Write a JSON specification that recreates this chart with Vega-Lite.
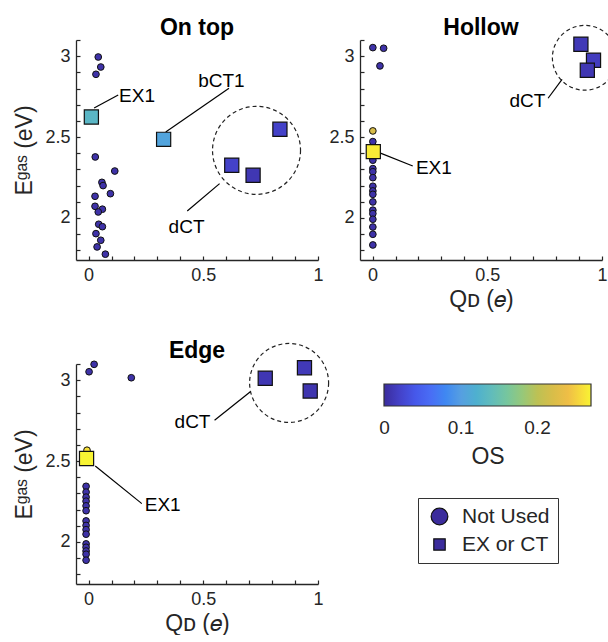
{
  "$schema": "https://vega.github.io/schema/vega-lite/v6.json",
  "padding": {"left": 13, "top": 16, "right": 0, "bottom": 0},
  "background": "white",
  "datasets": {
    "pts": [
      {"p": "On top", "x": 0.042, "y": 2.995, "t": "Not Used", "os": 0.005},
      {"p": "On top", "x": 0.053, "y": 2.933, "t": "Not Used", "os": 0.005},
      {"p": "On top", "x": 0.032, "y": 2.888, "t": "Not Used", "os": 0.005},
      {"p": "On top", "x": 0.029, "y": 2.377, "t": "Not Used", "os": 0.005},
      {"p": "On top", "x": 0.114, "y": 2.29, "t": "Not Used", "os": 0.005},
      {"p": "On top", "x": 0.058, "y": 2.22, "t": "Not Used", "os": 0.005},
      {"p": "On top", "x": 0.063, "y": 2.2, "t": "Not Used", "os": 0.005},
      {"p": "On top", "x": 0.095, "y": 2.15, "t": "Not Used", "os": 0.005},
      {"p": "On top", "x": 0.028, "y": 2.134, "t": "Not Used", "os": 0.005},
      {"p": "On top", "x": 0.028, "y": 2.072, "t": "Not Used", "os": 0.005},
      {"p": "On top", "x": 0.06, "y": 2.054, "t": "Not Used", "os": 0.005},
      {"p": "On top", "x": 0.042, "y": 2.037, "t": "Not Used", "os": 0.005},
      {"p": "On top", "x": 0.044, "y": 1.961, "t": "Not Used", "os": 0.005},
      {"p": "On top", "x": 0.06, "y": 1.946, "t": "Not Used", "os": 0.005},
      {"p": "On top", "x": 0.032, "y": 1.903, "t": "Not Used", "os": 0.005},
      {"p": "On top", "x": 0.053, "y": 1.862, "t": "Not Used", "os": 0.005},
      {"p": "On top", "x": 0.037, "y": 1.821, "t": "Not Used", "os": 0.005},
      {"p": "On top", "x": 0.073, "y": 1.776, "t": "Not Used", "os": 0.005},
      {"p": "On top", "x": 0.012, "y": 2.624, "t": "EX or CT", "os": 0.13},
      {"p": "On top", "x": 0.327, "y": 2.486, "t": "EX or CT", "os": 0.105},
      {"p": "On top", "x": 0.624, "y": 2.326, "t": "EX or CT", "os": 0.02},
      {"p": "On top", "x": 0.717, "y": 2.264, "t": "EX or CT", "os": 0.01},
      {"p": "On top", "x": 0.834, "y": 2.548, "t": "EX or CT", "os": 0.02},
      {"p": "Hollow", "x": 0.001, "y": 3.053, "t": "Not Used", "os": 0.005},
      {"p": "Hollow", "x": 0.048, "y": 3.049, "t": "Not Used", "os": 0.005},
      {"p": "Hollow", "x": 0.032, "y": 2.94, "t": "Not Used", "os": 0.005},
      {"p": "Hollow", "x": 0.001, "y": 2.538, "t": "Not Used", "os": 0.22},
      {"p": "Hollow", "x": 0.001, "y": 2.472, "t": "Not Used", "os": 0.005},
      {"p": "Hollow", "x": 0.001, "y": 2.373, "t": "Not Used", "os": 0.005},
      {"p": "Hollow", "x": 0.001, "y": 2.357, "t": "Not Used", "os": 0.005},
      {"p": "Hollow", "x": 0.001, "y": 2.305, "t": "Not Used", "os": 0.005},
      {"p": "Hollow", "x": 0.001, "y": 2.286, "t": "Not Used", "os": 0.005},
      {"p": "Hollow", "x": 0.001, "y": 2.249, "t": "Not Used", "os": 0.005},
      {"p": "Hollow", "x": 0.001, "y": 2.196, "t": "Not Used", "os": 0.005},
      {"p": "Hollow", "x": 0.001, "y": 2.167, "t": "Not Used", "os": 0.005},
      {"p": "Hollow", "x": 0.001, "y": 2.146, "t": "Not Used", "os": 0.005},
      {"p": "Hollow", "x": 0.001, "y": 2.099, "t": "Not Used", "os": 0.005},
      {"p": "Hollow", "x": 0.001, "y": 2.048, "t": "Not Used", "os": 0.005},
      {"p": "Hollow", "x": 0.001, "y": 2.027, "t": "Not Used", "os": 0.005},
      {"p": "Hollow", "x": 0.001, "y": 1.992, "t": "Not Used", "os": 0.005},
      {"p": "Hollow", "x": 0.001, "y": 1.944, "t": "Not Used", "os": 0.005},
      {"p": "Hollow", "x": 0.001, "y": 1.899, "t": "Not Used", "os": 0.005},
      {"p": "Hollow", "x": 0.001, "y": 1.833, "t": "Not Used", "os": 0.005},
      {"p": "Hollow", "x": 0.003, "y": 2.41, "t": "EX or CT", "os": 0.265},
      {"p": "Hollow", "x": 0.908, "y": 3.074, "t": "EX or CT", "os": 0.012},
      {"p": "Hollow", "x": 0.963, "y": 2.975, "t": "EX or CT", "os": 0.015},
      {"p": "Hollow", "x": 0.936, "y": 2.913, "t": "EX or CT", "os": 0.01},
      {"p": "Edge", "x": 0.024, "y": 3.098, "t": "Not Used", "os": 0.005},
      {"p": "Edge", "x": 0.002, "y": 3.052, "t": "Not Used", "os": 0.005},
      {"p": "Edge", "x": 0.186, "y": 3.015, "t": "Not Used", "os": 0.005},
      {"p": "Edge", "x": -0.007, "y": 2.567, "t": "Not Used", "os": 0.26},
      {"p": "Edge", "x": -0.011, "y": 2.344, "t": "Not Used", "os": 0.005},
      {"p": "Edge", "x": -0.011, "y": 2.308, "t": "Not Used", "os": 0.005},
      {"p": "Edge", "x": -0.011, "y": 2.277, "t": "Not Used", "os": 0.005},
      {"p": "Edge", "x": -0.011, "y": 2.252, "t": "Not Used", "os": 0.005},
      {"p": "Edge", "x": -0.011, "y": 2.223, "t": "Not Used", "os": 0.005},
      {"p": "Edge", "x": -0.011, "y": 2.193, "t": "Not Used", "os": 0.005},
      {"p": "Edge", "x": -0.011, "y": 2.13, "t": "Not Used", "os": 0.005},
      {"p": "Edge", "x": -0.011, "y": 2.102, "t": "Not Used", "os": 0.005},
      {"p": "Edge", "x": -0.011, "y": 2.076, "t": "Not Used", "os": 0.005},
      {"p": "Edge", "x": -0.011, "y": 2.048, "t": "Not Used", "os": 0.005},
      {"p": "Edge", "x": -0.011, "y": 1.988, "t": "Not Used", "os": 0.005},
      {"p": "Edge", "x": -0.011, "y": 1.967, "t": "Not Used", "os": 0.005},
      {"p": "Edge", "x": -0.011, "y": 1.944, "t": "Not Used", "os": 0.005},
      {"p": "Edge", "x": -0.011, "y": 1.924, "t": "Not Used", "os": 0.005},
      {"p": "Edge", "x": -0.011, "y": 1.887, "t": "Not Used", "os": 0.005},
      {"p": "Edge", "x": -0.009, "y": 2.516, "t": "EX or CT", "os": 0.27},
      {"p": "Edge", "x": 0.77, "y": 3.012, "t": "EX or CT", "os": 0.01},
      {"p": "Edge", "x": 0.941, "y": 3.077, "t": "EX or CT", "os": 0.012},
      {"p": "Edge", "x": 0.966, "y": 2.933, "t": "EX or CT", "os": 0.008}
    ],
    "lines": [
      {"p": "On top", "x": 0.024, "y": 2.68, "x2": 0.129, "y2": 2.76},
      {"p": "On top", "x": 0.336, "y": 2.532, "x2": 0.612, "y2": 2.802},
      {"p": "On top", "x": 0.43, "y": 2.043, "x2": 0.571, "y2": 2.212},
      {"p": "Hollow", "x": 0.765, "y": 2.74, "x2": 0.826, "y2": 2.857},
      {"p": "Hollow", "x": 0.029, "y": 2.404, "x2": 0.175, "y2": 2.321},
      {"p": "Edge", "x": 0.549, "y": 2.752, "x2": 0.705, "y2": 2.929},
      {"p": "Edge", "x": 0.029, "y": 2.47, "x2": 0.232, "y2": 2.237}
    ],
    "labels": [
      {"p": "On top", "label": "EX1", "x": 0.211, "y": 2.752},
      {"p": "On top", "label": "bCT1", "x": 0.579, "y": 2.847},
      {"p": "On top", "label": "dCT", "x": 0.427, "y": 1.944},
      {"p": "Hollow", "label": "dCT", "x": 0.675, "y": 2.723},
      {"p": "Hollow", "label": "EX1", "x": 0.267, "y": 2.311},
      {"p": "Edge", "label": "dCT", "x": 0.453, "y": 2.742},
      {"p": "Edge", "label": "EX1", "x": 0.323, "y": 2.231}
    ],
    "ell": [
      {"p": "On top", "x": 0.732, "y": 2.418},
      {"p": "Hollow", "x": 0.925, "y": 2.99},
      {"p": "Edge", "x": 0.874, "y": 2.983}
    ]
  },
  "columns": 2,
  "spacing": {"row": 104, "column": 42},
  "bounds": "flush",
  "concat": [
    {
      "title": {"text": "On top", "frame": "group", "baseline": "alphabetic", "offset": 6, "dy": 33},
      "width": 242,
      "height": 220,
      "encoding": {
        "x": {"field": "x", "type": "quantitative", "scale": {"domain": [-0.055, 1], "nice": false, "zero": false},
          "axis": {"title": null, "values": [0, 0.1, 0.2, 0.3, 0.4, 0.5, 0.6, 0.7, 0.8, 0.9, 1], "labelExpr": "round(datum.value*10) % 5 == 0 ? format(datum.value, '~g') : ''"}},
        "y": {"field": "y", "type": "quantitative", "scale": {"domain": [1.74, 3.1], "nice": false, "zero": false},
          "axis": {"title": "Eᵍᵃˢ (eV)", "titlePadding": 8, "values": [1.8, 1.9, 2, 2.1, 2.2, 2.3, 2.4, 2.5, 2.6, 2.7, 2.8, 2.9, 3, 3.1], "labelExpr": "round(datum.value*10) % 5 == 0 ? format(datum.value, '~g') : ''"}}
      },
      "layer": [
        {
          "data": {"name": "ell"},
          "transform": [{"filter": "datum.p === 'On top'"}],
          "mark": {"type": "point", "shape": "circle", "size": 7744, "filled": false, "stroke": "#222222", "strokeWidth": 1.2, "strokeDash": [4, 3], "opacity": 1}
        },
        {
          "data": {"name": "lines"},
          "transform": [{"filter": "datum.p === 'On top'"}],
          "mark": {"type": "rule", "color": "#000000", "strokeWidth": 1.2},
          "encoding": {"x2": {"field": "x2"}, "y2": {"field": "y2"}}
        },
        {
          "data": {"name": "labels"},
          "transform": [{"filter": "datum.p === 'On top'"}],
          "mark": {"type": "text", "font": "Liberation Sans", "fontSize": 19, "color": "#000000", "align": "center", "baseline": "middle"},
          "encoding": {"text": {"field": "label"}}
        },
        {
          "data": {"name": "pts"},
          "transform": [{"filter": "datum.p === 'On top' && datum.t === 'Not Used'"}],
          "mark": {"type": "point", "filled": true, "stroke": "#111111", "strokeWidth": 1, "opacity": 1, "size": 45},
          "encoding": {
            "color": {"field": "os", "type": "quantitative",
              "scale": {"domain": [-0.0008, 0.27], "range": ["#3b2c9c", "#4650e6", "#4b74f8", "#58a0e0", "#62b8c0", "#88c890", "#c2c050", "#ecb848", "#f8f433"]},
              "legend": {"title": "OS", "orient": "none", "direction": "horizontal", "legendX": 308, "legendY": 344, "gradientLength": 207, "gradientThickness": 22, "titleOrient": "bottom", "titleAnchor": "middle", "values": [0, 0.1, 0.2], "format": "~g", "labelAlign": "center", "padding": 0, "gradientStrokeColor": "#333333", "gradientStrokeWidth": 1.2, "labelFontSize": 19, "titleFontSize": 23, "titleFontWeight": "normal", "labelOffset": 13, "titlePadding": 8}},
            "shape": {"field": "t", "type": "nominal",
              "scale": {"domain": ["Not Used", "EX or CT"], "range": ["circle", "square"]},
              "legend": {"title": null, "orient": "none", "legendX": 342, "legendY": 458, "strokeColor": "#333333", "padding": 8, "labelFontSize": 21, "symbolSize": 200, "symbolOffset": 3, "labelOffset": 12, "symbolFillColor": "#3b2c9c", "symbolStrokeColor": "#111111", "symbolStrokeWidth": 1.2, "symbolOpacity": 1, "rowPadding": 5, "labelExpr": "datum.label + '\u00a0\u00a0\u00a0\u00a0\u00a0\u00a0\u00a0'", "encode": {"symbols": {"update": {"size": {"signal": "datum.value === 'Not Used' ? 280 : 130"}}}}}}
          }
        },
        {
          "data": {"name": "pts"},
          "transform": [{"filter": "datum.p === 'On top' && datum.t === 'EX or CT'"}],
          "mark": {"type": "point", "filled": true, "stroke": "#111111", "strokeWidth": 1.2, "opacity": 1, "size": 200},
          "encoding": {
            "color": {"field": "os", "type": "quantitative",
              "scale": {"domain": [-0.0008, 0.27], "range": ["#3b2c9c", "#4650e6", "#4b74f8", "#58a0e0", "#62b8c0", "#88c890", "#c2c050", "#ecb848", "#f8f433"]},
              "legend": {"title": "OS", "orient": "none", "direction": "horizontal", "legendX": 308, "legendY": 344, "gradientLength": 207, "gradientThickness": 22, "titleOrient": "bottom", "titleAnchor": "middle", "values": [0, 0.1, 0.2], "format": "~g", "labelAlign": "center", "padding": 0, "gradientStrokeColor": "#333333", "gradientStrokeWidth": 1.2, "labelFontSize": 19, "titleFontSize": 23, "titleFontWeight": "normal", "labelOffset": 13, "titlePadding": 8}},
            "shape": {"field": "t", "type": "nominal",
              "scale": {"domain": ["Not Used", "EX or CT"], "range": ["circle", "square"]},
              "legend": {"title": null, "orient": "none", "legendX": 342, "legendY": 458, "strokeColor": "#333333", "padding": 8, "labelFontSize": 21, "symbolSize": 200, "symbolOffset": 3, "labelOffset": 12, "symbolFillColor": "#3b2c9c", "symbolStrokeColor": "#111111", "symbolStrokeWidth": 1.2, "symbolOpacity": 1, "rowPadding": 5, "labelExpr": "datum.label + '\u00a0\u00a0\u00a0\u00a0\u00a0\u00a0\u00a0'", "encode": {"symbols": {"update": {"size": {"signal": "datum.value === 'Not Used' ? 280 : 130"}}}}}}
          }
        }
      ]
    },
    {
      "title": {"text": "Hollow", "frame": "group", "baseline": "alphabetic", "offset": 6, "dy": 41},
      "width": 242,
      "height": 220,
      "encoding": {
        "x": {"field": "x", "type": "quantitative", "scale": {"domain": [-0.055, 1], "nice": false, "zero": false},
          "axis": {"title": "Qᴅ (𝑒)", "titlePadding": 4, "values": [0, 0.1, 0.2, 0.3, 0.4, 0.5, 0.6, 0.7, 0.8, 0.9, 1], "labelExpr": "round(datum.value*10) % 5 == 0 ? format(datum.value, '~g') : ''"}},
        "y": {"field": "y", "type": "quantitative", "scale": {"domain": [1.74, 3.1], "nice": false, "zero": false},
          "axis": {"title": null, "values": [1.8, 1.9, 2, 2.1, 2.2, 2.3, 2.4, 2.5, 2.6, 2.7, 2.8, 2.9, 3, 3.1], "labelExpr": "round(datum.value*10) % 5 == 0 ? format(datum.value, '~g') : ''"}}
      },
      "layer": [
        {
          "data": {"name": "ell"},
          "transform": [{"filter": "datum.p === 'Hollow'"}],
          "mark": {"type": "point", "shape": "circle", "size": 4200, "filled": false, "stroke": "#222222", "strokeWidth": 1.2, "strokeDash": [4, 3], "opacity": 1}
        },
        {
          "data": {"name": "lines"},
          "transform": [{"filter": "datum.p === 'Hollow'"}],
          "mark": {"type": "rule", "color": "#000000", "strokeWidth": 1.2},
          "encoding": {"x2": {"field": "x2"}, "y2": {"field": "y2"}}
        },
        {
          "data": {"name": "labels"},
          "transform": [{"filter": "datum.p === 'Hollow'"}],
          "mark": {"type": "text", "font": "Liberation Sans", "fontSize": 19, "color": "#000000", "align": "center", "baseline": "middle"},
          "encoding": {"text": {"field": "label"}}
        },
        {
          "data": {"name": "pts"},
          "transform": [{"filter": "datum.p === 'Hollow' && datum.t === 'Not Used'"}],
          "mark": {"type": "point", "filled": true, "stroke": "#111111", "strokeWidth": 1, "opacity": 1, "size": 45},
          "encoding": {
            "color": {"field": "os", "type": "quantitative",
              "scale": {"domain": [-0.0008, 0.27], "range": ["#3b2c9c", "#4650e6", "#4b74f8", "#58a0e0", "#62b8c0", "#88c890", "#c2c050", "#ecb848", "#f8f433"]},
              "legend": {"title": "OS", "orient": "none", "direction": "horizontal", "legendX": 308, "legendY": 344, "gradientLength": 207, "gradientThickness": 22, "titleOrient": "bottom", "titleAnchor": "middle", "values": [0, 0.1, 0.2], "format": "~g", "labelAlign": "center", "padding": 0, "gradientStrokeColor": "#333333", "gradientStrokeWidth": 1.2, "labelFontSize": 19, "titleFontSize": 23, "titleFontWeight": "normal", "labelOffset": 13, "titlePadding": 8}},
            "shape": {"field": "t", "type": "nominal",
              "scale": {"domain": ["Not Used", "EX or CT"], "range": ["circle", "square"]},
              "legend": {"title": null, "orient": "none", "legendX": 342, "legendY": 458, "strokeColor": "#333333", "padding": 8, "labelFontSize": 21, "symbolSize": 200, "symbolOffset": 3, "labelOffset": 12, "symbolFillColor": "#3b2c9c", "symbolStrokeColor": "#111111", "symbolStrokeWidth": 1.2, "symbolOpacity": 1, "rowPadding": 5, "labelExpr": "datum.label + '\u00a0\u00a0\u00a0\u00a0\u00a0\u00a0\u00a0'", "encode": {"symbols": {"update": {"size": {"signal": "datum.value === 'Not Used' ? 280 : 130"}}}}}}
          }
        },
        {
          "data": {"name": "pts"},
          "transform": [{"filter": "datum.p === 'Hollow' && datum.t === 'EX or CT'"}],
          "mark": {"type": "point", "filled": true, "stroke": "#111111", "strokeWidth": 1.2, "opacity": 1, "size": 200},
          "encoding": {
            "color": {"field": "os", "type": "quantitative",
              "scale": {"domain": [-0.0008, 0.27], "range": ["#3b2c9c", "#4650e6", "#4b74f8", "#58a0e0", "#62b8c0", "#88c890", "#c2c050", "#ecb848", "#f8f433"]},
              "legend": {"title": "OS", "orient": "none", "direction": "horizontal", "legendX": 308, "legendY": 344, "gradientLength": 207, "gradientThickness": 22, "titleOrient": "bottom", "titleAnchor": "middle", "values": [0, 0.1, 0.2], "format": "~g", "labelAlign": "center", "padding": 0, "gradientStrokeColor": "#333333", "gradientStrokeWidth": 1.2, "labelFontSize": 19, "titleFontSize": 23, "titleFontWeight": "normal", "labelOffset": 13, "titlePadding": 8}},
            "shape": {"field": "t", "type": "nominal",
              "scale": {"domain": ["Not Used", "EX or CT"], "range": ["circle", "square"]},
              "legend": {"title": null, "orient": "none", "legendX": 342, "legendY": 458, "strokeColor": "#333333", "padding": 8, "labelFontSize": 21, "symbolSize": 200, "symbolOffset": 3, "labelOffset": 12, "symbolFillColor": "#3b2c9c", "symbolStrokeColor": "#111111", "symbolStrokeWidth": 1.2, "symbolOpacity": 1, "rowPadding": 5, "labelExpr": "datum.label + '\u00a0\u00a0\u00a0\u00a0\u00a0\u00a0\u00a0'", "encode": {"symbols": {"update": {"size": {"signal": "datum.value === 'Not Used' ? 280 : 130"}}}}}}
          }
        }
      ]
    },
    {
      "title": {"text": "Edge", "frame": "group", "baseline": "alphabetic", "offset": 6, "dy": 46},
      "width": 242,
      "height": 220,
      "encoding": {
        "x": {"field": "x", "type": "quantitative", "scale": {"domain": [-0.055, 1], "nice": false, "zero": false},
          "axis": {"title": "Qᴅ (𝑒)", "titlePadding": 4, "values": [0, 0.1, 0.2, 0.3, 0.4, 0.5, 0.6, 0.7, 0.8, 0.9, 1], "labelExpr": "round(datum.value*10) % 5 == 0 ? format(datum.value, '~g') : ''"}},
        "y": {"field": "y", "type": "quantitative", "scale": {"domain": [1.74, 3.1], "nice": false, "zero": false},
          "axis": {"title": "Eᵍᵃˢ (eV)", "titlePadding": 8, "values": [1.8, 1.9, 2, 2.1, 2.2, 2.3, 2.4, 2.5, 2.6, 2.7, 2.8, 2.9, 3, 3.1], "labelExpr": "round(datum.value*10) % 5 == 0 ? format(datum.value, '~g') : ''"}}
      },
      "layer": [
        {
          "data": {"name": "ell"},
          "transform": [{"filter": "datum.p === 'Edge'"}],
          "mark": {"type": "point", "shape": "circle", "size": 6241, "filled": false, "stroke": "#222222", "strokeWidth": 1.2, "strokeDash": [4, 3], "opacity": 1}
        },
        {
          "data": {"name": "lines"},
          "transform": [{"filter": "datum.p === 'Edge'"}],
          "mark": {"type": "rule", "color": "#000000", "strokeWidth": 1.2},
          "encoding": {"x2": {"field": "x2"}, "y2": {"field": "y2"}}
        },
        {
          "data": {"name": "labels"},
          "transform": [{"filter": "datum.p === 'Edge'"}],
          "mark": {"type": "text", "font": "Liberation Sans", "fontSize": 19, "color": "#000000", "align": "center", "baseline": "middle"},
          "encoding": {"text": {"field": "label"}}
        },
        {
          "data": {"name": "pts"},
          "transform": [{"filter": "datum.p === 'Edge' && datum.t === 'Not Used'"}],
          "mark": {"type": "point", "filled": true, "stroke": "#111111", "strokeWidth": 1, "opacity": 1, "size": 45},
          "encoding": {
            "color": {"field": "os", "type": "quantitative",
              "scale": {"domain": [-0.0008, 0.27], "range": ["#3b2c9c", "#4650e6", "#4b74f8", "#58a0e0", "#62b8c0", "#88c890", "#c2c050", "#ecb848", "#f8f433"]},
              "legend": {"title": "OS", "orient": "none", "direction": "horizontal", "legendX": 308, "legendY": 344, "gradientLength": 207, "gradientThickness": 22, "titleOrient": "bottom", "titleAnchor": "middle", "values": [0, 0.1, 0.2], "format": "~g", "labelAlign": "center", "padding": 0, "gradientStrokeColor": "#333333", "gradientStrokeWidth": 1.2, "labelFontSize": 19, "titleFontSize": 23, "titleFontWeight": "normal", "labelOffset": 13, "titlePadding": 8}},
            "shape": {"field": "t", "type": "nominal",
              "scale": {"domain": ["Not Used", "EX or CT"], "range": ["circle", "square"]},
              "legend": {"title": null, "orient": "none", "legendX": 342, "legendY": 458, "strokeColor": "#333333", "padding": 8, "labelFontSize": 21, "symbolSize": 200, "symbolOffset": 3, "labelOffset": 12, "symbolFillColor": "#3b2c9c", "symbolStrokeColor": "#111111", "symbolStrokeWidth": 1.2, "symbolOpacity": 1, "rowPadding": 5, "labelExpr": "datum.label + '\u00a0\u00a0\u00a0\u00a0\u00a0\u00a0\u00a0'", "encode": {"symbols": {"update": {"size": {"signal": "datum.value === 'Not Used' ? 280 : 130"}}}}}}
          }
        },
        {
          "data": {"name": "pts"},
          "transform": [{"filter": "datum.p === 'Edge' && datum.t === 'EX or CT'"}],
          "mark": {"type": "point", "filled": true, "stroke": "#111111", "strokeWidth": 1.2, "opacity": 1, "size": 200},
          "encoding": {
            "color": {"field": "os", "type": "quantitative",
              "scale": {"domain": [-0.0008, 0.27], "range": ["#3b2c9c", "#4650e6", "#4b74f8", "#58a0e0", "#62b8c0", "#88c890", "#c2c050", "#ecb848", "#f8f433"]},
              "legend": {"title": "OS", "orient": "none", "direction": "horizontal", "legendX": 308, "legendY": 344, "gradientLength": 207, "gradientThickness": 22, "titleOrient": "bottom", "titleAnchor": "middle", "values": [0, 0.1, 0.2], "format": "~g", "labelAlign": "center", "padding": 0, "gradientStrokeColor": "#333333", "gradientStrokeWidth": 1.2, "labelFontSize": 19, "titleFontSize": 23, "titleFontWeight": "normal", "labelOffset": 13, "titlePadding": 8}},
            "shape": {"field": "t", "type": "nominal",
              "scale": {"domain": ["Not Used", "EX or CT"], "range": ["circle", "square"]},
              "legend": {"title": null, "orient": "none", "legendX": 342, "legendY": 458, "strokeColor": "#333333", "padding": 8, "labelFontSize": 21, "symbolSize": 200, "symbolOffset": 3, "labelOffset": 12, "symbolFillColor": "#3b2c9c", "symbolStrokeColor": "#111111", "symbolStrokeWidth": 1.2, "symbolOpacity": 1, "rowPadding": 5, "labelExpr": "datum.label + '\u00a0\u00a0\u00a0\u00a0\u00a0\u00a0\u00a0'", "encode": {"symbols": {"update": {"size": {"signal": "datum.value === 'Not Used' ? 280 : 130"}}}}}}
          }
        }
      ]
    }
  ],
  "config": {
    "view": {"stroke": null},
    "font": "Liberation Sans",
    "title": {"font": "Liberation Sans", "fontSize": 23, "fontWeight": "bold", "color": "#000000", "anchor": "middle"},
    "axis": {
      "grid": false,
      "domainColor": "#262626",
      "domainWidth": 1.3,
      "tickColor": "#262626",
      "tickWidth": 1.2,
      "tickSize": -4,
      "labelPadding": 10,
      "labelFont": "Liberation Sans",
      "labelFontSize": 18,
      "labelColor": "#262626",
      "labelFlush": false,
      "labelOverlap": false,
      "titleFont": "Liberation Sans",
      "titleFontSize": 23,
      "titleFontWeight": "normal",
      "titleColor": "#262626"
    },
    "legend": {"labelFont": "Liberation Sans", "titleFont": "Liberation Sans", "labelColor": "#262626", "titleColor": "#262626"}
  }
}
